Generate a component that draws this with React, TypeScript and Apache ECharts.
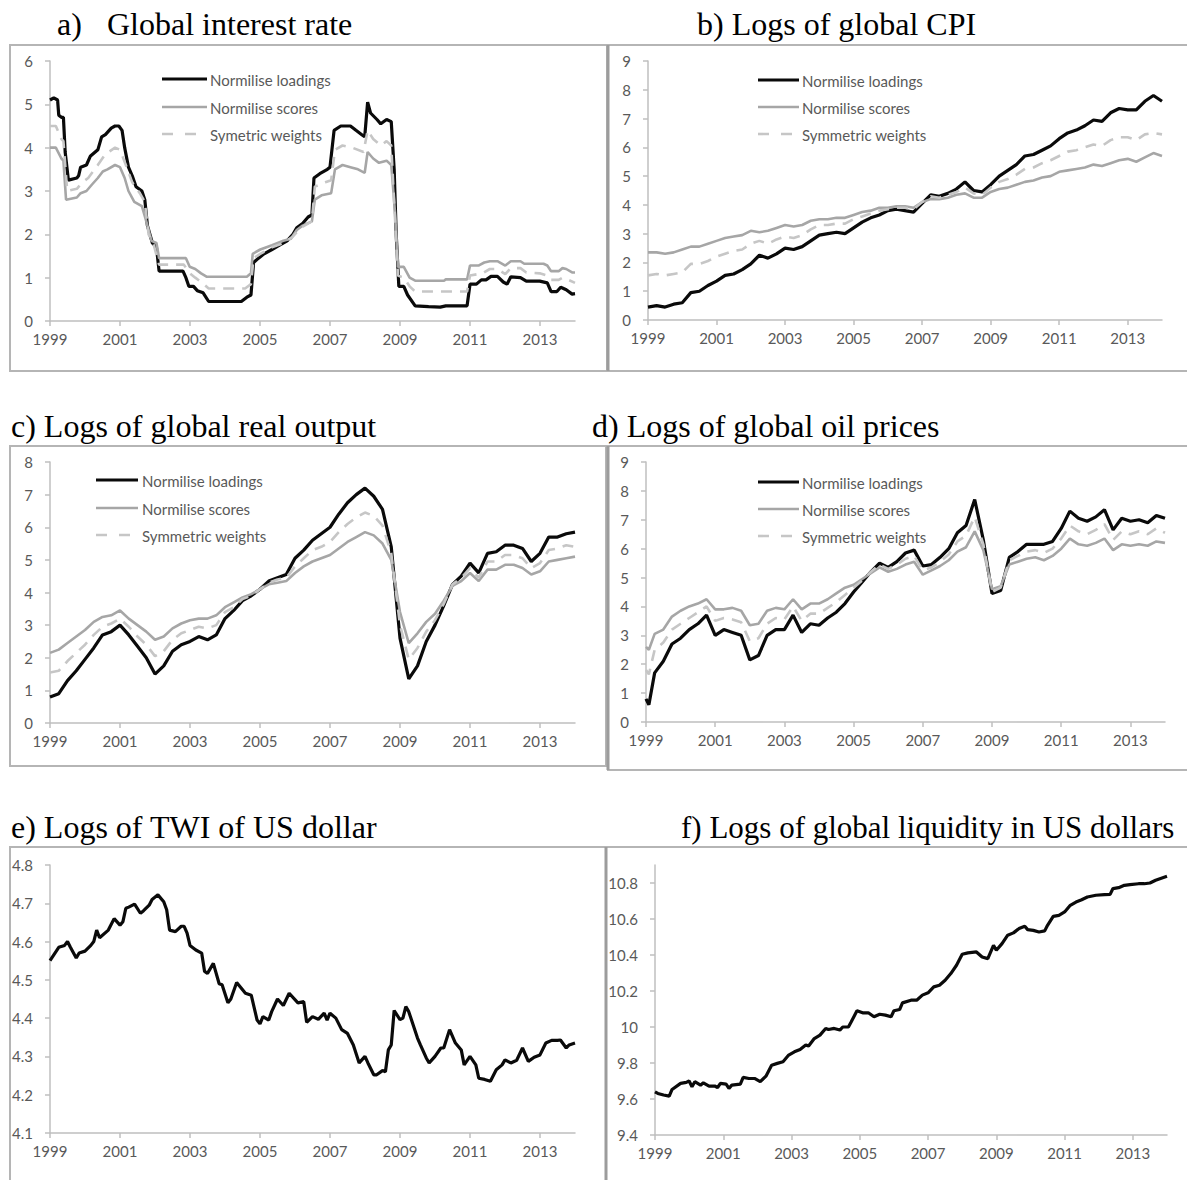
import React, { useEffect, useRef } from "react";
import * as echarts from "echarts";

// ---------- data ----------
const START_YEAR = 1999;
const YEAR_TICKS = [1999, 2001, 2003, 2005, 2007, 2009, 2011, 2013];

const TITLES = [
  "Global interest rate",
  "b) Logs of global CPI",
  "c) Logs of global real output",
  "d) Logs of global oil prices",
  "e) Logs of TWI of US dollar",
  "f) Logs of global liquidity in US dollars",
];
const TITLE_A_PREFIX = "a)";

const LEGEND_A = ["Normilise loadings", "Normilise scores", "Symetric weights"];
const LEGEND_BCD = ["Normilise loadings", "Normilise scores", "Symmetric weights"];

const Y_TICKS_A = [0, 1, 2, 3, 4, 5, 6];
const Y_TICKS_B = [0, 1, 2, 3, 4, 5, 6, 7, 8, 9];
const Y_TICKS_C = [0, 1, 2, 3, 4, 5, 6, 7, 8];
const Y_TICKS_D = [0, 1, 2, 3, 4, 5, 6, 7, 8, 9];
const Y_TICKS_E = [4.1, 4.2, 4.3, 4.4, 4.5, 4.6, 4.7, 4.8];
const Y_TICKS_F = [9.4, 9.6, 9.8, 10, 10.2, 10.4, 10.6, 10.8];
const Y_MAX_F = 10.9;

// Panel a: months since Jan 1999 and values
const A_LOAD_M = [0,1.3,2.6,3,3.9,4.6,5.2,6.3,9.2,9.8,10.5,12.5,13.8,16.4,17.7,19,21,22.3,23.6,24.7,25.6,26.9,28.2,29.5,31.5,32.5,33.4,35.1,36.5,37.4,45.6,46.6,47.6,49.2,50.5,52.5,54.4,65.6,67.5,68.9,69.8,71.5,73.4,76.1,78.7,81.3,83.3,84.6,86.6,88.5,89.8,90.5,92.5,95.1,96,97.4,99.7,103,104.9,106.9,107.9,108.9,109.9,112.1,113.4,115.4,117,118,118.7,119.6,121.3,122.6,125.2,129.8,133.8,135.7,143,144,146.2,147.9,149.5,151.2,153.4,155.4,156.7,158,161.3,163.3,167.9,170.5,171.8,173.8,175.1,177,179,180];
const A_LOAD_V = [5.1,5.15,5.1,4.75,4.7,4.7,3.9,3.25,3.3,3.35,3.55,3.6,3.8,3.95,4.25,4.3,4.45,4.5,4.5,4.4,4.0,3.55,3.35,3.1,3.0,2.8,2.2,1.8,1.7,1.15,1.15,1.0,0.8,0.8,0.7,0.65,0.45,0.45,0.55,0.6,1.35,1.45,1.55,1.65,1.75,1.85,2.0,2.15,2.25,2.4,2.45,3.3,3.4,3.5,3.55,4.4,4.5,4.5,4.4,4.3,4.25,5.05,4.8,4.65,4.55,4.65,4.6,3.5,2.0,0.8,0.8,0.6,0.35,0.33,0.32,0.35,0.35,0.85,0.85,0.95,0.95,1.03,1.03,0.9,0.85,1.02,1.0,0.92,0.92,0.88,0.68,0.68,0.78,0.72,0.62,0.63];
const A_SCORE_M = [0,2,3.9,4.6,5.5,9.2,10.5,12.5,14.4,16.4,18.1,19.7,22.3,24,25.6,26.9,28.9,31.5,32.8,34.8,36.5,37.4,46.6,47.9,49.8,51.8,53.8,67.5,68.9,69.5,72.1,76.1,80,82.6,84.6,86.6,89.8,90.8,93.1,96.4,97.7,100.3,103,105.6,107.9,108.9,110.8,112.8,115.4,117,118.3,119.3,121.3,123.3,125.2,135.1,135.7,143,144,146.9,148.9,150.8,153.4,156.1,158,161.3,162.6,169.2,170.5,171.8,174.4,175.7,177,179,180];
const A_SCORE_V = [4.0,4.0,3.75,3.7,2.8,2.85,2.95,3.0,3.15,3.3,3.45,3.5,3.6,3.55,3.3,3.0,2.75,2.65,2.35,1.85,1.8,1.45,1.45,1.25,1.2,1.1,1.02,1.02,1.1,1.55,1.65,1.75,1.85,1.9,2.1,2.2,2.3,2.8,2.9,2.95,3.5,3.6,3.55,3.5,3.42,3.9,3.75,3.65,3.7,3.6,2.5,1.25,1.25,1.0,0.93,0.93,0.96,0.96,1.28,1.28,1.35,1.38,1.38,1.28,1.38,1.38,1.32,1.32,1.28,1.15,1.15,1.22,1.2,1.12,1.12];
const A_SYM_M = [0,2,3.9,4.6,5.9,9.2,11.1,13.1,16.4,19,22.3,24,26,28.2,30.8,32.5,33.8,35.4,37.4,45.9,47.9,49.8,51.8,54.4,66.9,68.9,69.8,72.1,76.1,80,83.3,85.9,89.8,90.8,94.4,96.4,97.7,100.3,103.6,107.5,108.9,110.8,113.4,115.4,117,119.3,121.3,123.3,125.2,143,144,148.2,150.8,153.4,156.1,158,161.3,163.3,167.9,170.5,171.8,174.4,175.7,177.7,180];
const A_SYM_V = [4.5,4.5,4.2,4.15,3.0,3.05,3.2,3.3,3.6,3.85,4.0,3.95,3.6,3.2,2.95,2.75,2.0,1.8,1.3,1.3,1.1,1.0,0.9,0.75,0.75,0.85,1.45,1.55,1.7,1.8,1.95,2.15,2.3,3.1,3.2,3.25,3.95,4.05,4.0,3.9,4.4,4.2,4.05,4.15,4.05,1.05,1.0,0.8,0.68,0.68,1.05,1.1,1.2,1.2,1.08,1.22,1.22,1.12,1.1,1.05,0.95,0.95,1.0,0.95,0.88];

// Quarterly months (panels b, c)
const Q_MONTHS = [0,3,6,9,12,15,18,21,24,27,30,33,36,39,42,45,48,51,54,57,60,63,66,69,72,75,78,81,84,87,90,93,96,99,102,105,108,111,114,117,120,123,126,129,132,135,138,141,144,147,150,153,156,159,162,165,168,171,174,177,180];

const B_LOAD = [0.45,0.5,0.45,0.55,0.6,0.95,1.0,1.2,1.35,1.55,1.6,1.75,1.95,2.25,2.15,2.3,2.5,2.45,2.55,2.75,2.95,3.0,3.05,3.0,3.2,3.4,3.55,3.65,3.8,3.85,3.8,3.75,4.05,4.35,4.3,4.4,4.55,4.8,4.5,4.45,4.7,5.0,5.2,5.4,5.7,5.75,5.9,6.05,6.3,6.5,6.6,6.75,6.95,6.9,7.2,7.35,7.3,7.3,7.6,7.8,7.6];
const B_SCORE = [2.35,2.35,2.3,2.35,2.45,2.55,2.55,2.65,2.75,2.85,2.9,2.95,3.1,3.05,3.1,3.2,3.3,3.25,3.3,3.45,3.5,3.5,3.55,3.55,3.65,3.75,3.8,3.9,3.9,3.95,3.95,3.9,4.1,4.2,4.2,4.25,4.35,4.4,4.25,4.25,4.45,4.55,4.6,4.7,4.8,4.85,4.95,5.0,5.15,5.2,5.25,5.3,5.4,5.35,5.45,5.55,5.6,5.5,5.65,5.8,5.7];
const B_SYM = [1.55,1.6,1.55,1.6,1.65,1.95,1.95,2.05,2.2,2.3,2.4,2.45,2.65,2.75,2.65,2.8,2.9,2.85,2.95,3.15,3.3,3.3,3.35,3.35,3.5,3.6,3.7,3.8,3.85,3.9,3.9,3.85,4.1,4.3,4.25,4.35,4.45,4.6,4.4,4.35,4.6,4.8,4.9,5.05,5.25,5.3,5.45,5.55,5.7,5.85,5.9,6.0,6.1,6.05,6.25,6.35,6.35,6.25,6.45,6.5,6.45];

const C_LOAD = [0.8,0.9,1.3,1.6,1.95,2.3,2.7,2.8,3.0,2.7,2.35,2.0,1.5,1.75,2.2,2.4,2.5,2.65,2.55,2.7,3.2,3.45,3.75,3.9,4.1,4.35,4.45,4.55,5.05,5.3,5.6,5.8,6.0,6.4,6.75,7.0,7.2,6.95,6.55,5.4,2.6,1.35,1.75,2.5,3.0,3.6,4.25,4.5,4.9,4.6,5.2,5.25,5.45,5.45,5.35,4.95,5.2,5.7,5.7,5.8,5.85];
const C_SCORE = [2.15,2.25,2.45,2.65,2.85,3.1,3.25,3.3,3.45,3.2,3.0,2.8,2.55,2.65,2.9,3.05,3.15,3.2,3.2,3.3,3.55,3.7,3.85,3.95,4.1,4.25,4.3,4.35,4.6,4.8,4.95,5.05,5.15,5.35,5.55,5.7,5.85,5.75,5.5,5.0,3.4,2.45,2.75,3.1,3.35,3.75,4.2,4.35,4.6,4.35,4.7,4.7,4.85,4.85,4.75,4.55,4.65,4.95,5.0,5.05,5.1];
const C_SYM = [1.55,1.6,1.9,2.15,2.4,2.7,2.95,3.05,3.2,2.95,2.65,2.4,2.05,2.2,2.55,2.75,2.85,2.95,2.9,3.0,3.4,3.55,3.8,3.9,4.1,4.3,4.4,4.45,4.8,5.05,5.3,5.4,5.55,5.85,6.1,6.3,6.45,6.35,6.05,5.2,3.0,1.95,2.3,2.8,3.15,3.65,4.25,4.45,4.75,4.45,4.95,4.95,5.15,5.15,5.05,4.75,4.9,5.3,5.35,5.45,5.4];

const D_MONTHS = [0,1,3,6,9,12,15,18,21,24,27,30,33,36,39,42,45,48,51,54,57,60,63,66,69,72,75,78,81,84,87,90,93,96,99,102,105,108,111,114,117,120,123,126,129,132,135,138,141,144,147,150,153,156,159,162,165,168,171,174,177,180];
const D_LOAD = [0.8,0.6,1.7,2.1,2.7,2.9,3.2,3.4,3.7,3.0,3.2,3.1,3.0,2.15,2.3,3.0,3.2,3.2,3.7,3.1,3.4,3.35,3.6,3.8,4.1,4.5,4.85,5.2,5.5,5.35,5.55,5.85,5.95,5.4,5.45,5.7,6.0,6.55,6.8,7.7,6.3,4.45,4.55,5.7,5.9,6.15,6.15,6.15,6.25,6.7,7.3,7.05,6.95,7.1,7.35,6.65,7.05,6.95,7.0,6.9,7.15,7.05];
const D_SCORE = [2.6,2.5,3.05,3.2,3.65,3.85,4.0,4.1,4.25,3.9,3.9,3.95,3.85,3.35,3.4,3.85,3.95,3.9,4.25,3.9,4.1,4.1,4.25,4.45,4.65,4.75,4.95,5.15,5.35,5.2,5.3,5.45,5.55,5.1,5.25,5.4,5.6,5.9,6.05,6.6,5.95,4.6,4.7,5.45,5.55,5.65,5.7,5.6,5.75,6.0,6.35,6.15,6.1,6.2,6.35,5.95,6.15,6.1,6.15,6.1,6.25,6.2];
const D_SYM = [1.8,1.65,2.5,2.75,3.2,3.4,3.6,3.8,4.0,3.5,3.6,3.55,3.45,2.8,2.9,3.4,3.6,3.55,4.0,3.5,3.75,3.75,3.95,4.15,4.4,4.65,4.9,5.2,5.45,5.3,5.45,5.65,5.75,5.25,5.35,5.55,5.8,6.25,6.45,7.1,6.15,4.5,4.65,5.6,5.75,5.9,5.95,5.85,6.0,6.35,6.8,6.6,6.5,6.65,6.85,6.3,6.6,6.5,6.6,6.5,6.7,6.55];

const E_M = [0,3,5,6,7,9,10,12,14,15,16,17,20,22,24,25,26,27,29,31,32,34,35,37,39,40,41,43,45,46,47,48,50,52,53,54,56,58,59,61,62,64,67,69,71,72,73,75,76,78,80,82,85,87,88,90,92,94,95,96,98,100,102,104,106,108,109,111,112,114,115,116,117,118,120,121,122,123,126,127,129,130,132,134,135,137,139,141,142,144,146,147,149,151,153,155,156,158,160,162,164,166,168,170,172,174,175,177,178,180];
const E_V = [4.55,4.585,4.59,4.6,4.585,4.557,4.57,4.575,4.59,4.6,4.63,4.61,4.63,4.66,4.643,4.652,4.687,4.69,4.698,4.674,4.68,4.695,4.71,4.722,4.704,4.683,4.63,4.626,4.64,4.64,4.622,4.59,4.578,4.57,4.522,4.517,4.543,4.49,4.487,4.44,4.45,4.493,4.465,4.46,4.395,4.385,4.404,4.395,4.417,4.45,4.433,4.465,4.44,4.443,4.389,4.404,4.397,4.413,4.395,4.413,4.4,4.37,4.36,4.33,4.283,4.3,4.283,4.252,4.252,4.263,4.26,4.317,4.33,4.42,4.396,4.4,4.43,4.417,4.348,4.33,4.296,4.283,4.3,4.322,4.322,4.37,4.335,4.317,4.278,4.3,4.278,4.243,4.24,4.235,4.265,4.278,4.291,4.283,4.29,4.322,4.287,4.298,4.304,4.335,4.342,4.342,4.343,4.322,4.33,4.335];

const F_M = [0,1,3,5,6,9,11,12,13,14,16,17,19,21,22,23,25,26,27,30,31,33,35,37,39,41,43,45,47,49,51,53,54,56,58,60,61,63,65,66,68,69,71,73,75,77,79,81,83,84,86,87,90,92,94,96,98,100,102,104,106,108,110,113,115,117,119,120,122,124,126,128,130,131,133,135,137,138,140,142,144,146,148,150,152,155,158,160,161,163,165,167,170,172,174,176,180];
const F_V = [9.64,9.631,9.622,9.616,9.653,9.687,9.692,9.7,9.668,9.696,9.677,9.69,9.672,9.672,9.664,9.687,9.683,9.659,9.677,9.683,9.72,9.714,9.714,9.696,9.727,9.788,9.798,9.807,9.844,9.862,9.875,9.9,9.894,9.936,9.955,9.992,9.986,9.992,9.983,10.0,10.0,10.029,10.09,10.079,10.079,10.057,10.071,10.066,10.057,10.09,10.097,10.134,10.149,10.149,10.177,10.19,10.223,10.232,10.26,10.297,10.343,10.404,10.412,10.417,10.389,10.38,10.454,10.426,10.463,10.51,10.523,10.547,10.56,10.541,10.537,10.528,10.534,10.565,10.615,10.62,10.639,10.676,10.694,10.707,10.722,10.732,10.735,10.737,10.769,10.774,10.787,10.791,10.796,10.796,10.8,10.815,10.837];

// ---------- styling / layout ----------
const AXIS = "#bfbfbf";
const LABEL = "#595959";
const BLACK = "#0a0a0a";
const GRAY = "#a6a6a6";
const LIGHT = "#c6c6c6";
const SANS = "Lato";
const SERIF = '"Liberation Serif", "Times New Roman", serif';

const GRIDS = [
  { left: 50, top: 61, width: 525, height: 260 },
  { left: 648, top: 61, width: 514, height: 259 },
  { left: 50, top: 462, width: 525, height: 261 },
  { left: 646, top: 462, width: 519, height: 260 },
  { left: 50, top: 865, width: 525, height: 268 },
  { left: 655, top: 865, width: 512, height: 270 },
];

const zip = (ms: number[], vs: number[]) => ms.map((m, i) => [m, vs[i]]);
const X_TICKS = YEAR_TICKS.map((y) => (y - START_YEAR) * 12);

function xAxis(i: number) {
  return {
    type: "value",
    gridIndex: i,
    min: 0,
    max: 180,
    interval: 24,
    axisLine: { show: true, onZero: false, lineStyle: { color: AXIS, width: 1.5 } },
    axisTick: { show: true, length: 5, customValues: X_TICKS, lineStyle: { color: AXIS, width: 1.5 } },
    axisLabel: {
      customValues: X_TICKS,
      formatter: (v: number) => String(START_YEAR + v / 12),
      margin: 10,
      color: LABEL,
      fontFamily: SANS,
      fontSize: 15,
    },
    splitLine: { show: false },
  };
}

function yAxis(i: number, ticks: number[], max: number) {
  const interval = +(ticks[1] - ticks[0]).toFixed(2);
  return {
    type: "value",
    gridIndex: i,
    min: ticks[0],
    max,
    interval,
    axisLine: { show: true, onZero: false, lineStyle: { color: AXIS, width: 1.5 } },
    axisTick: { show: true, length: 5, customValues: ticks, lineStyle: { color: AXIS, width: 1.5 } },
    axisLabel: {
      customValues: ticks,
      formatter: (v: number) => String(+v.toFixed(1)),
      margin: 17,
      color: LABEL,
      fontFamily: SANS,
      fontSize: 15,
    },
    splitLine: { show: false },
  };
}

function line(i: number, data: number[][], kind: "load" | "score" | "sym") {
  const style =
    kind === "load"
      ? { color: BLACK, width: 3.2 }
      : kind === "score"
      ? { color: GRAY, width: 2.6 }
      : { color: LIGHT, width: 2.6, type: [11, 8] };
  return {
    type: "line",
    xAxisIndex: i,
    yAxisIndex: i,
    data,
    showSymbol: false,
    symbol: "none",
    silent: true,
    lineStyle: style,
    z: kind === "load" ? 3 : kind === "score" ? 4 : 5,
  };
}

function legend(x1: number, x2: number, tx: number, ys: number[], labels: string[]) {
  const els: any[] = [];
  const kinds = [
    { stroke: BLACK, lineWidth: 3.2 },
    { stroke: GRAY, lineWidth: 2.6 },
    { stroke: LIGHT, lineWidth: 2.6, lineDash: [11, 12] },
  ];
  ys.forEach((y, k) => {
    els.push({ type: "line", shape: { x1, y1: y, x2, y2: y }, style: kinds[k], z: 10 });
    els.push({
      type: "text",
      x: tx,
      y: y + 1,
      style: { text: labels[k], fill: LABEL, font: `15px ${SANS}`, verticalAlign: "middle" },
      z: 10,
    });
  });
  return els;
}

function title(x: number, y: number, text: string, size = 32) {
  return {
    type: "text",
    x,
    y,
    style: { text, fill: "#000", font: `${size}px ${SERIF}`, verticalAlign: "middle" },
    z: 10,
  };
}

function box(x: number, y: number, w: number, h: number) {
  return {
    type: "rect",
    shape: { x, y, width: w, height: h },
    style: { fill: "none", stroke: "#b5b5b5", lineWidth: 2 },
    z: 1,
  };
}
function divider(x: number, y1: number, y2: number) {
  return {
    type: "line",
    shape: { x1: x, y1, x2: x, y2 },
    style: { stroke: "#9c9c9c", lineWidth: 3 },
    z: 2,
  };
}

export default function App() {
  const ref = useRef<HTMLDivElement>(null);
  useEffect(() => {
    const chart = echarts.init(ref.current!, null, { renderer: "svg" });
    const option: any = {
      animation: false,
      backgroundColor: "#ffffff",
      grid: GRIDS.map((g) => ({ ...g, containLabel: false })),
      xAxis: GRIDS.map((_, i) => xAxis(i)),
      yAxis: [
        yAxis(0, Y_TICKS_A, 6),
        yAxis(1, Y_TICKS_B, 9),
        yAxis(2, Y_TICKS_C, 8),
        yAxis(3, Y_TICKS_D, 9),
        yAxis(4, Y_TICKS_E, 4.8),
        yAxis(5, Y_TICKS_F, Y_MAX_F),
      ],
      series: [
        line(0, zip(A_LOAD_M, A_LOAD_V), "load"),
        line(0, zip(A_SCORE_M, A_SCORE_V), "score"),
        line(0, zip(A_SYM_M, A_SYM_V), "sym"),
        line(1, zip(Q_MONTHS, B_LOAD), "load"),
        line(1, zip(Q_MONTHS, B_SCORE), "score"),
        line(1, zip(Q_MONTHS, B_SYM), "sym"),
        line(2, zip(Q_MONTHS, C_LOAD), "load"),
        line(2, zip(Q_MONTHS, C_SCORE), "score"),
        line(2, zip(Q_MONTHS, C_SYM), "sym"),
        line(3, zip(D_MONTHS, D_LOAD), "load"),
        line(3, zip(D_MONTHS, D_SCORE), "score"),
        line(3, zip(D_MONTHS, D_SYM), "sym"),
        line(4, zip(E_M, E_V), "load"),
        line(5, zip(F_M, F_V), "load"),
      ],
      graphic: [
        box(10, 45, 597, 326),
        box(608, 45, 600, 326),
        divider(608, 45, 371),
        box(10, 446, 596, 320),
        box(608, 446, 600, 324),
        divider(608, 446, 770),
        box(10, 847, 596, 400),
        box(606, 847, 600, 400),
        divider(606, 847, 1180),
        title(57, 24, TITLE_A_PREFIX),
        title(107, 24, TITLES[0]),
        title(697, 24, TITLES[1]),
        title(11, 426, TITLES[2]),
        title(592, 426, TITLES[3]),
        title(11, 827, TITLES[4]),
        title(681, 827, TITLES[5], 31),
        ...legend(162, 207, 210, [79, 107, 134], LEGEND_A),
        ...legend(758, 799, 802, [80, 107, 134], LEGEND_BCD),
        ...legend(96, 138, 142, [480, 508, 535], LEGEND_BCD),
        ...legend(758, 799, 802, [482, 509, 536], LEGEND_BCD),
      ],
    };
    chart.setOption(option);
    return () => chart.dispose();
  }, []);
  return (
    <div
      ref={ref}
      style={{ position: "absolute", left: 0, top: 0, width: 1187, height: 1180, background: "#fff" }}
    />
  );
}
